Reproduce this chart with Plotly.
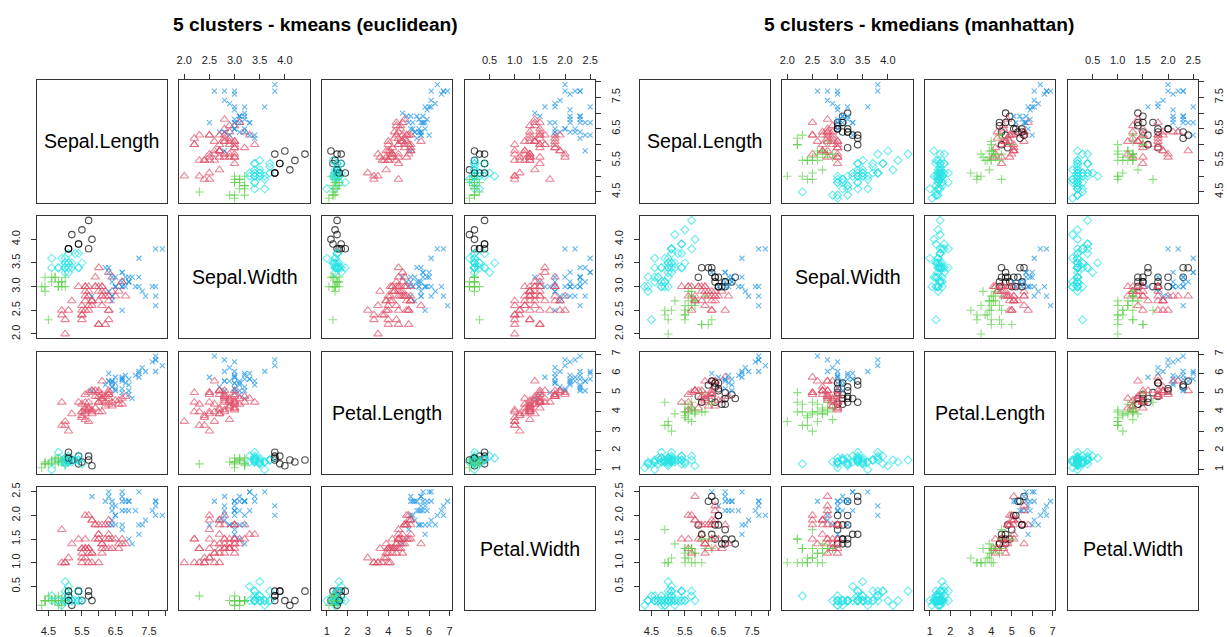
import plotly.graph_objects as go

# iris measurements (150 flowers, R's built-in order)
sepal_length = [
    5.1, 4.9, 4.7, 4.6, 5.0, 5.4, 4.6, 5.0, 4.4, 4.9, 5.4, 4.8, 4.8, 4.3, 5.8, 5.7, 5.4, 5.1, 5.7, 5.1,
    5.4, 5.1, 4.6, 5.1, 4.8, 5.0, 5.0, 5.2, 5.2, 4.7, 4.8, 5.4, 5.2, 5.5, 4.9, 5.0, 5.5, 4.9, 4.4, 5.1,
    5.0, 4.5, 4.4, 5.0, 5.1, 4.8, 5.1, 4.6, 5.3, 5.0,
    7.0, 6.4, 6.9, 5.5, 6.5, 5.7, 6.3, 4.9, 6.6, 5.2, 5.0, 5.9, 6.0, 6.1, 5.6, 6.7, 5.6, 5.8, 6.2, 5.6,
    5.9, 6.1, 6.3, 6.1, 6.4, 6.6, 6.8, 6.7, 6.0, 5.7, 5.5, 5.5, 5.8, 6.0, 5.4, 6.0, 6.7, 6.3, 5.6, 5.5,
    5.5, 6.1, 5.8, 5.0, 5.6, 5.7, 5.7, 6.2, 5.1, 5.7,
    6.3, 5.8, 7.1, 6.3, 6.5, 7.6, 4.9, 7.3, 6.7, 7.2, 6.5, 6.4, 6.8, 5.7, 5.8, 6.4, 6.5, 7.7, 7.7, 6.0,
    6.9, 5.6, 7.7, 6.3, 6.7, 7.2, 6.2, 6.1, 6.4, 7.2, 7.4, 7.9, 6.4, 6.3, 6.1, 7.7, 6.3, 6.4, 6.0, 6.9,
    6.7, 6.9, 5.8, 6.8, 6.7, 6.7, 6.3, 6.5, 6.2, 5.9,
]
sepal_width = [
    3.5, 3.0, 3.2, 3.1, 3.6, 3.9, 3.4, 3.4, 2.9, 3.1, 3.7, 3.4, 3.0, 3.0, 4.0, 4.4, 3.9, 3.5, 3.8, 3.8,
    3.4, 3.7, 3.6, 3.3, 3.4, 3.0, 3.4, 3.5, 3.4, 3.2, 3.1, 3.4, 4.1, 4.2, 3.1, 3.2, 3.5, 3.6, 3.0, 3.4,
    3.5, 2.3, 3.2, 3.5, 3.8, 3.0, 3.8, 3.2, 3.7, 3.3,
    3.2, 3.2, 3.1, 2.3, 2.8, 2.8, 3.3, 2.4, 2.9, 2.7, 2.0, 3.0, 2.2, 2.9, 2.9, 3.1, 3.0, 2.7, 2.2, 2.5,
    3.2, 2.8, 2.5, 2.8, 2.9, 3.0, 2.8, 3.0, 2.9, 2.6, 2.4, 2.4, 2.7, 2.7, 3.0, 3.4, 3.1, 2.3, 3.0, 2.5,
    2.6, 3.0, 2.6, 2.3, 2.7, 3.0, 2.9, 2.9, 2.5, 2.8,
    3.3, 2.7, 3.0, 2.9, 3.0, 3.0, 2.5, 2.9, 2.5, 3.6, 3.2, 2.7, 3.0, 2.5, 2.8, 3.2, 3.0, 3.8, 2.6, 2.2,
    3.2, 2.8, 2.8, 2.7, 3.3, 3.2, 2.8, 3.0, 2.8, 3.0, 2.8, 3.8, 2.8, 2.8, 2.6, 3.0, 3.4, 3.1, 3.0, 3.1,
    3.1, 3.1, 2.7, 3.2, 3.3, 3.0, 2.5, 3.0, 3.4, 3.0,
]
petal_length = [
    1.4, 1.4, 1.3, 1.5, 1.4, 1.7, 1.4, 1.5, 1.4, 1.5, 1.5, 1.6, 1.4, 1.1, 1.2, 1.5, 1.3, 1.4, 1.7, 1.5,
    1.7, 1.5, 1.0, 1.7, 1.9, 1.6, 1.6, 1.5, 1.4, 1.6, 1.6, 1.5, 1.5, 1.4, 1.5, 1.2, 1.3, 1.4, 1.3, 1.5,
    1.3, 1.3, 1.3, 1.6, 1.9, 1.4, 1.6, 1.4, 1.5, 1.4,
    4.7, 4.5, 4.9, 4.0, 4.6, 4.5, 4.7, 3.3, 4.6, 3.9, 3.5, 4.2, 4.0, 4.7, 3.6, 4.4, 4.5, 4.1, 4.5, 3.9,
    4.8, 4.0, 4.9, 4.7, 4.3, 4.4, 4.8, 5.0, 4.5, 3.5, 3.8, 3.7, 3.9, 5.1, 4.5, 4.5, 4.7, 4.4, 4.1, 4.0,
    4.4, 4.6, 4.0, 3.3, 4.2, 4.2, 4.2, 4.3, 3.0, 4.1,
    6.0, 5.1, 5.9, 5.6, 5.8, 6.6, 4.5, 6.3, 5.8, 6.1, 5.1, 5.3, 5.5, 5.0, 5.1, 5.3, 5.5, 6.7, 6.9, 5.0,
    5.7, 4.9, 6.7, 4.9, 5.7, 6.0, 4.8, 4.9, 5.6, 5.8, 6.1, 6.4, 5.6, 5.1, 5.6, 6.1, 5.6, 5.5, 4.8, 5.4,
    5.6, 5.1, 5.1, 5.9, 5.7, 5.2, 5.0, 5.2, 5.4, 5.1,
]
petal_width = [
    0.2, 0.2, 0.2, 0.2, 0.2, 0.4, 0.3, 0.2, 0.2, 0.1, 0.2, 0.2, 0.1, 0.1, 0.2, 0.4, 0.4, 0.3, 0.3, 0.3,
    0.2, 0.4, 0.2, 0.5, 0.2, 0.2, 0.4, 0.2, 0.2, 0.2, 0.2, 0.4, 0.1, 0.2, 0.2, 0.2, 0.2, 0.1, 0.2, 0.2,
    0.3, 0.3, 0.2, 0.6, 0.4, 0.3, 0.2, 0.2, 0.2, 0.2,
    1.4, 1.5, 1.5, 1.3, 1.5, 1.3, 1.6, 1.0, 1.3, 1.4, 1.0, 1.5, 1.0, 1.4, 1.3, 1.4, 1.5, 1.0, 1.5, 1.1,
    1.8, 1.3, 1.5, 1.2, 1.3, 1.4, 1.4, 1.7, 1.5, 1.0, 1.1, 1.0, 1.2, 1.6, 1.5, 1.6, 1.5, 1.3, 1.3, 1.3,
    1.2, 1.4, 1.2, 1.0, 1.3, 1.2, 1.3, 1.3, 1.1, 1.3,
    2.5, 1.9, 2.1, 1.8, 2.2, 2.1, 1.7, 1.8, 1.8, 2.5, 2.0, 1.9, 2.1, 2.0, 2.4, 2.3, 1.8, 2.2, 2.3, 1.5,
    2.3, 2.0, 2.0, 1.8, 2.1, 1.8, 1.8, 1.8, 2.1, 1.6, 1.9, 2.0, 2.2, 1.5, 1.4, 2.3, 2.4, 1.8, 1.8, 2.1,
    2.4, 2.3, 1.9, 2.3, 2.5, 2.3, 1.9, 2.0, 2.3, 1.8,
]

# cluster of each flower, as coloured in the two panels (1..5)
kmeans_cluster = [
    5, 3, 3, 3, 5, 1, 5, 5, 3, 3, 5, 5, 3, 3, 1, 1, 1, 5, 1, 1,
    5, 5, 5, 5, 5, 3, 5, 5, 5, 3, 3, 5, 1, 1, 3, 3, 5, 5, 3, 5,
    5, 3, 3, 5, 1, 3, 1, 3, 5, 5,
    4, 2, 4, 2, 2, 2, 2, 2, 2, 2, 2, 2, 2, 2, 2, 2, 2, 2, 2, 2,
    2, 2, 2, 2, 2, 2, 2, 4, 2, 2, 2, 2, 2, 2, 2, 2, 2, 2, 2, 2,
    2, 2, 2, 2, 2, 2, 2, 2, 2, 2,
    4, 2, 4, 4, 4, 4, 2, 4, 4, 4, 4, 4, 4, 2, 4, 4, 4, 4, 4, 2,
    4, 2, 4, 2, 4, 4, 2, 2, 4, 4, 4, 4, 4, 2, 2, 4, 4, 4, 2, 4,
    4, 4, 2, 4, 4, 4, 2, 4, 4, 2,
]
kmedians_cluster = [
    5, 5, 5, 5, 5, 5, 5, 5, 5, 5, 5, 5, 5, 5, 5, 5, 5, 5, 5, 5,
    5, 5, 5, 5, 5, 5, 5, 5, 5, 5, 5, 5, 5, 5, 5, 5, 5, 5, 5, 5,
    5, 5, 5, 5, 5, 5, 5, 5, 5, 5,
    1, 1, 1, 3, 2, 3, 1, 3, 2, 3, 3, 2, 3, 2, 3, 1, 2, 3, 3, 3,
    1, 3, 2, 2, 2, 1, 2, 1, 2, 3, 3, 3, 3, 2, 2, 1, 1, 3, 2, 3,
    3, 2, 3, 3, 3, 2, 3, 2, 3, 3,
    4, 2, 4, 2, 4, 4, 3, 4, 2, 4, 1, 2, 4, 2, 2, 1, 1, 4, 4, 3,
    4, 2, 4, 2, 4, 4, 2, 2, 2, 4, 4, 4, 2, 2, 2, 4, 1, 1, 2, 4,
    4, 4, 2, 4, 4, 4, 2, 1, 1, 2,
]

variable_names = ["Sepal.Length", "Sepal.Width", "Petal.Length", "Petal.Width"]
plot_titles = ["5 clusters - kmeans (euclidean)", "5 clusters - kmedians (manhattan)"]

tick_values = [
    [4.5, 5.0, 5.5, 6.0, 6.5, 7.0, 7.5, 8.0],
    [2.0, 2.5, 3.0, 3.5, 4.0],
    [1, 2, 3, 4, 5, 6, 7],
    [0.5, 1.0, 1.5, 2.0, 2.5],
]
tick_labels = [
    ["4.5", "", "5.5", "", "6.5", "", "7.5", ""],
    ["2.0", "2.5", "3.0", "3.5", "4.0"],
    ["1", "2", "3", "4", "5", "6", "7"],
    ["0.5", "1.0", "1.5", "2.0", "2.5"],
]

# R default palette / pch 1..5
cluster_colors = {1: "#000000", 2: "#DF536B", 3: "#61D04F", 4: "#2297E6", 5: "#28E2E5"}
cluster_symbols = {1: "circle-open", 2: "triangle-up-open", 3: "cross-thin-open",
                   4: "x-thin-open", 5: "diamond-open"}
cluster_sizes = {1: 6.5, 2: 7.5, 3: 6.2, 4: 5, 5: 6.2}

W, H = 1227, 637
MATRIX_LEFT = [34, 640]
PANEL_TOP = 76
PANEL_W, PANEL_H = 131, 124
COL_STEP, ROW_STEP = 143.3, 137.2
FONT = "Liberation Sans"
LINE = "#333333"

columns = [sepal_length, sepal_width, petal_length, petal_width]


def padded_range(values):
    lo, hi = min(values), max(values)
    pad = (hi - lo) * 0.04
    return [lo - pad, hi + pad]


ranges = [padded_range(v) for v in columns]

# which outer axes carry ticks: (row, col) -> side
x_tick_sides = {(0, 1): "top", (0, 3): "top", (3, 0): "bottom", (3, 2): "bottom"}
y_tick_sides = {(1, 0): "left", (3, 0): "left", (0, 3): "right", (2, 3): "right"}

fig = go.Figure()
layout = {}
annotations = []

for m, clusters in enumerate([kmeans_cluster, kmedians_cluster]):
    colors = [cluster_colors[k] for k in clusters]
    symbols = [cluster_symbols[k] for k in clusters]
    sizes = [cluster_sizes[k] for k in clusters]

    for r in range(4):
        for c in range(4):
            n = m * 16 + r * 4 + c + 1
            sfx = "" if n == 1 else str(n)
            x0 = MATRIX_LEFT[m] + c * COL_STEP
            y0 = PANEL_TOP + r * ROW_STEP

            xaxis = dict(
                domain=[x0 / W, (x0 + PANEL_W) / W],
                anchor="y" + sfx,
                showline=True, mirror=True, linecolor=LINE, linewidth=1,
                showgrid=False, zeroline=False, showticklabels=False, ticks="",
                fixedrange=True,
            )
            yaxis = dict(
                domain=[1 - (y0 + PANEL_H) / H, 1 - y0 / H],
                anchor="x" + sfx,
                showline=True, mirror=True, linecolor=LINE, linewidth=1,
                showgrid=False, zeroline=False, showticklabels=False, ticks="",
                fixedrange=True,
            )

            if r == c:
                xaxis["range"] = [0, 1]
                yaxis["range"] = [0, 1]
                fig.add_trace(go.Scatter(x=[], y=[], xaxis="x" + sfx, yaxis="y" + sfx,
                                         hoverinfo="skip", showlegend=False))
                annotations.append(dict(
                    text=variable_names[r], x=0.5, y=0.5,
                    xref=f"x{sfx} domain", yref=f"y{sfx} domain",
                    showarrow=False, font=dict(family=FONT, size=19.6, color="#000000"),
                ))
            else:
                xaxis["range"] = ranges[c]
                yaxis["range"] = ranges[r]
                fig.add_trace(go.Scatter(
                    x=columns[c], y=columns[r],
                    xaxis="x" + sfx, yaxis="y" + sfx,
                    mode="markers",
                    marker=dict(symbol=symbols, color=colors, size=sizes,
                                line=dict(width=1.1, color=colors)),
                    hoverinfo="skip", showlegend=False,
                ))

            tick_style = dict(ticks="outside", ticklen=5, tickwidth=1, tickcolor=LINE,
                              showticklabels=True, ticklabelstandoff=6,
                              tickfont=dict(family=FONT, size=11, color="#222222"))
            if (r, c) in x_tick_sides:
                xaxis.update(tick_style, side=x_tick_sides[(r, c)],
                             tickvals=tick_values[c], ticktext=tick_labels[c])
            if (r, c) in y_tick_sides:
                yaxis.update(tick_style, side=y_tick_sides[(r, c)], tickangle=-90,
                             tickvals=tick_values[r], ticktext=tick_labels[r])

            layout["xaxis" + sfx] = xaxis
            layout["yaxis" + sfx] = yaxis

    centre = MATRIX_LEFT[m] + (3 * COL_STEP + PANEL_W) / 2
    annotations.append(dict(
        text="<b>" + plot_titles[m] + "</b>", x=centre / W, y=1 - 20 / H,
        xref="paper", yref="paper", xanchor="center", yanchor="middle",
        showarrow=False, font=dict(family=FONT, size=19.2, color="#000000"),
    ))

fig.update_layout(
    **layout,
    annotations=annotations,
    width=W, height=H,
    margin=dict(l=0, r=0, t=0, b=0),
    paper_bgcolor="white", plot_bgcolor="white",
    showlegend=False,
)

# the page body has a default 8px margin; drop it so the figure sits at the window origin
fig.write_html("out.html", config={"displayModeBar": False},
               post_script="document.body.style.margin='0';")
